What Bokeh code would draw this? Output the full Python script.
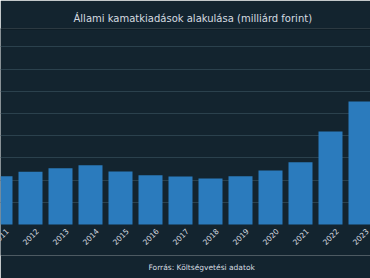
import math
from bokeh.plotting import figure
from bokeh.models import Range1d, FixedTicker, Title, Span, ColumnDataSource
from bokeh.core.properties import value
from bokeh.embed import file_html
from bokeh.resources import INLINE

years = ["2011", "2012", "2013", "2014", "2015", "2016", "2017",
         "2018", "2019", "2020", "2021", "2022", "2023"]
values = [1088, 1187, 1268, 1336, 1194, 1110, 1081, 1036, 1088, 1216, 1403, 2095, 2770]
y_ticks = [500, 1000, 1500, 2000, 2500, 3000, 3500, 4000]

BG = "#13242f"
TEXT = "#d6dce0"

idx = list(range(len(years)))
src = ColumnDataSource(dict(x=idx, top=values, year=years, base=[0] * len(years)))

p = figure(width=370, height=278, output_backend="svg", toolbar_location=None,
           x_range=Range1d(0, 370 / 30), y_range=Range1d(-698, 4414),
           min_border_left=0, min_border_right=0, min_border_top=28, min_border_bottom=23)

p.vbar(x="x", top="top", width=0.8, source=src, fill_color="#2b7bbd", line_color=None)
p.text(x="x", y="base", text="year", source=src, angle=math.pi / 4, y_offset=12,
       text_align="center", text_baseline="middle", text_color=TEXT,
       text_font=value("DejaVu Sans"), text_font_size="7.5px")

p.background_fill_color = BG
p.border_fill_color = BG
p.outline_line_color = None

p.xaxis.visible = False
p.yaxis.visible = False
p.ygrid.ticker = FixedTicker(ticks=y_ticks)
p.ygrid.grid_line_color = "#2b414d"
p.ygrid.grid_line_width = 1
p.xgrid.grid_line_color = None

p.add_layout(Span(location=4414, dimension="width", line_color="#0c1820", line_width=2))

src_title = Title(text="Forrás: Költségvetési adatok", align="left", offset=148,
                  text_color=TEXT, text_font="DejaVu Sans", text_font_size="7.5px",
                  text_font_style="normal")
p.add_layout(src_title, "below")

p.title = Title(text="Állami kamatkiadások alakulása (milliárd forint)", align="left", offset=73,
                text_color=TEXT, text_font="DejaVu Sans", text_font_size="10px",
                text_font_style="normal")

open("out.html", "w").write(file_html(p, INLINE))
